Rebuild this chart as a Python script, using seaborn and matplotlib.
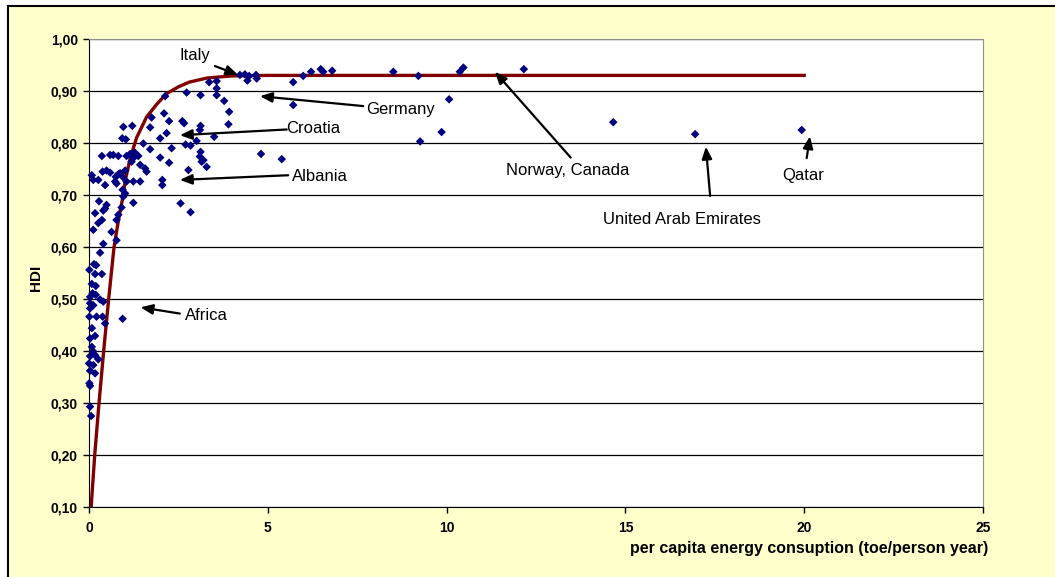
#%% Librerias
import pandas as pd
import matplotlib.pyplot as plt
from matplotlib.patches import Rectangle
import seaborn as sns

#%% Datos
energia = [4.22, 4.36, 4.48, 4.43, 4.67, 4.69, 5.71, 5.99, 6.21, 6.48, 6.55, 6.80,
           8.51, 9.21, 10.37, 10.47, 10.07, 5.71, 9.86, 9.26, 4.81, 5.39,
           12.16, 14.66, 16.95, 19.93,
           3.36, 3.57, 3.57, 3.57, 2.73, 3.12, 3.78, 3.92, 3.90,
           2.13, 1.75, 2.10, 2.24, 1.71, 2.61, 2.66, 3.12, 3.10, 3.50,
           2.17, 1.99, 3.01, 2.70, 2.84, 2.31, 1.71, 3.12, 3.10, 3.20, 3.15, 3.29,
           1.99, 2.24, 2.78, 2.05, 2.05, 2.56, 2.84,
           1.52, 1.43, 1.57, 1.61, 1.43, 1.24,
           0.96, 1.21, 0.93, 1.03,
           1.15, 1.24, 1.29, 1.38, 1.05, 1.24, 1.19,
           1.01, 1.05, 0.94, 0.87, 0.82, 0.75, 0.73, 0.77,
           0.36, 0.59, 0.68, 0.82,
           0.08, 0.12, 0.26, 0.38, 0.49, 0.59, 0.45,
           1.01, 0.96, 0.94, 1.24, 0.91, 0.82, 0.77, 0.63, 0.77,
           0.28, 0.49, 0.45, 0.40, 0.17, 0.36, 0.26, 0.12, 0.40, 0.31,
           0.14, 0.20, 0.01, 0.17, 0.36, 0.08, 0.19, 0.10, 0.03, 0.19, 0.31, 0.40,
           0.03, 0.12, 0.03, 0.01, 0.21, 0.38, 0.45, 0.94, 0.08, 0.17, 0.03, 0.08,
           0.12, 0.03, 0.17, 0.26, 0.00, 0.12, 0.03, 0.17, 0.01, 0.03, 0.03, 0.06]

hdi = [0.931, 0.932, 0.929, 0.920, 0.931, 0.924, 0.917, 0.929, 0.937, 0.942, 0.937, 0.939,
       0.937, 0.929, 0.937, 0.945, 0.884, 0.873, 0.821, 0.803, 0.779, 0.769,
       0.942, 0.840, 0.817, 0.825,
       0.917, 0.919, 0.905, 0.892, 0.897, 0.892, 0.881, 0.860, 0.836,
       0.890, 0.849, 0.857, 0.842, 0.830, 0.842, 0.838, 0.833, 0.825, 0.812,
       0.819, 0.809, 0.804, 0.797, 0.795, 0.790, 0.788, 0.783, 0.774, 0.767, 0.764, 0.754,
       0.772, 0.762, 0.748, 0.729, 0.719, 0.684, 0.667,
       0.799, 0.758, 0.751, 0.745, 0.726, 0.726,
       0.831, 0.833, 0.809, 0.807,
       0.779, 0.780, 0.781, 0.775, 0.775, 0.771, 0.764,
       0.747, 0.726, 0.735, 0.742, 0.740, 0.735, 0.726, 0.722,
       0.775, 0.777, 0.777, 0.775,
       0.738, 0.729, 0.729, 0.745, 0.747, 0.743, 0.719,
       0.703, 0.697, 0.710, 0.685, 0.676, 0.662, 0.652, 0.629, 0.613,
       0.688, 0.681, 0.674, 0.670, 0.665, 0.652, 0.646, 0.633, 0.606, 0.589,
       0.567, 0.565, 0.556, 0.548, 0.548, 0.529, 0.525, 0.511, 0.504, 0.508, 0.499, 0.495,
       0.492, 0.488, 0.482, 0.466, 0.466, 0.466, 0.453, 0.462, 0.444, 0.429, 0.424, 0.408,
       0.399, 0.390, 0.392, 0.384, 0.376, 0.373, 0.362, 0.357, 0.338, 0.333, 0.293, 0.275]

# curva de tendencia
curva_energia = [0.06, 0.16, 0.28, 0.41, 0.55, 0.70, 0.82, 0.93, 1.02, 1.15, 1.33,
                 1.61, 1.90, 2.17, 2.50, 2.80, 3.30, 4.00, 5.00, 20.0]
curva_hdi = [0.10, 0.20, 0.30, 0.40, 0.50, 0.60, 0.65, 0.69, 0.73, 0.77, 0.81,
             0.85, 0.875, 0.895, 0.908, 0.917, 0.925, 0.929, 0.930, 0.930]

ticks_hdi = [0.1, 0.2, 0.3, 0.4, 0.5, 0.6, 0.7, 0.8, 0.9, 1.0]
ticks_energia = [0, 5, 10, 15, 20, 25]

paises = pd.DataFrame({'energia': energia, 'hdi': hdi})
curva = pd.DataFrame({'energia': curva_energia, 'hdi': curva_hdi})

#%% Grafico
plt.rcParams['font.family'] = 'Liberation Sans'

fig = plt.figure(figsize=(10.55, 5.77), dpi=100, facecolor='white')
fig.patches.append(Rectangle((8 / 1055, -0.1), 1.2, 1.1 - 6 / 577,
                             transform=fig.transFigure, facecolor='#FFFFCC',
                             edgecolor='black', linewidth=1.5, zorder=-1))

ax = fig.add_axes([89 / 1055, 70 / 577, 894 / 1055, 468 / 577])
ax.set_facecolor('white')

sns.lineplot(data=curva, x='energia', y='hdi', color='#800000', linewidth=2.4,
             sort=False, estimator=None, ax=ax, zorder=2)
sns.scatterplot(data=paises, x='energia', y='hdi', marker='D', s=19,
                color='#000080', edgecolor='none', ax=ax, zorder=3, clip_on=False)

ax.set_xlim(0, 25)
ax.set_ylim(0.1, 1.0)
ax.set_yticks(ticks_hdi, labels=[f'{t:.2f}'.replace('.', ',') for t in ticks_hdi],
              fontweight='bold')
ax.set_xticks(ticks_energia, labels=[str(t) for t in ticks_energia], fontweight='bold')
ax.tick_params(axis='both', direction='out', length=4, width=1, colors='black',
               labelsize=10)
ax.tick_params(axis='y', pad=4)
ax.tick_params(axis='x', pad=6)

ax.yaxis.grid(True, color='black', linewidth=0.9)
ax.set_axisbelow(True)

for lado in ['top', 'right']:
    ax.spines[lado].set_color('#909090')
for lado in ['left', 'bottom']:
    ax.spines[lado].set_color('black')

ax.set_xlabel('per capita energy consuption (toe/person year)', fontsize=11.5,
              fontweight='bold', loc='right')
ax.xaxis.set_label_coords(1.0056, -0.072)
ax.set_ylabel('HDI', fontsize=11, fontweight='bold')
ax.yaxis.set_label_coords(-0.0515, 0.49)

#%% Anotaciones
flechas = [
    ('Italy', (2.96, 0.969), (3.52, 0.948), (4.17, 0.931)),
    ('Germany', (8.70, 0.865), (7.67, 0.871), (4.78, 0.890)),
    ('Croatia', (6.27, 0.828), (5.53, 0.826), (2.54, 0.815)),
    ('Albania', (6.47, 0.735), (5.57, 0.738), (2.54, 0.729)),
    ('Africa', (3.29, 0.469), (2.54, 0.472), (1.44, 0.484)),
    ('Norway, Canada', (13.38, 0.748), (13.47, 0.772), (11.35, 0.937)),
    ('United Arab Emirates', (16.58, 0.652), (17.37, 0.698), (17.25, 0.793)),
    ('Qatar', (19.97, 0.737), (20.07, 0.771), (20.16, 0.813)),
]

for texto, pos_texto, cola, punta in flechas:
    ax.text(pos_texto[0], pos_texto[1], texto, ha='center', va='center', fontsize=12)
    ax.annotate('', xy=punta, xytext=cola,
                arrowprops=dict(arrowstyle='-|>,head_length=0.6,head_width=0.25',
                                color='black', lw=1.6, mutation_scale=12,
                                shrinkA=0, shrinkB=0))

fig.savefig('out.png', dpi=100, facecolor=fig.get_facecolor())
